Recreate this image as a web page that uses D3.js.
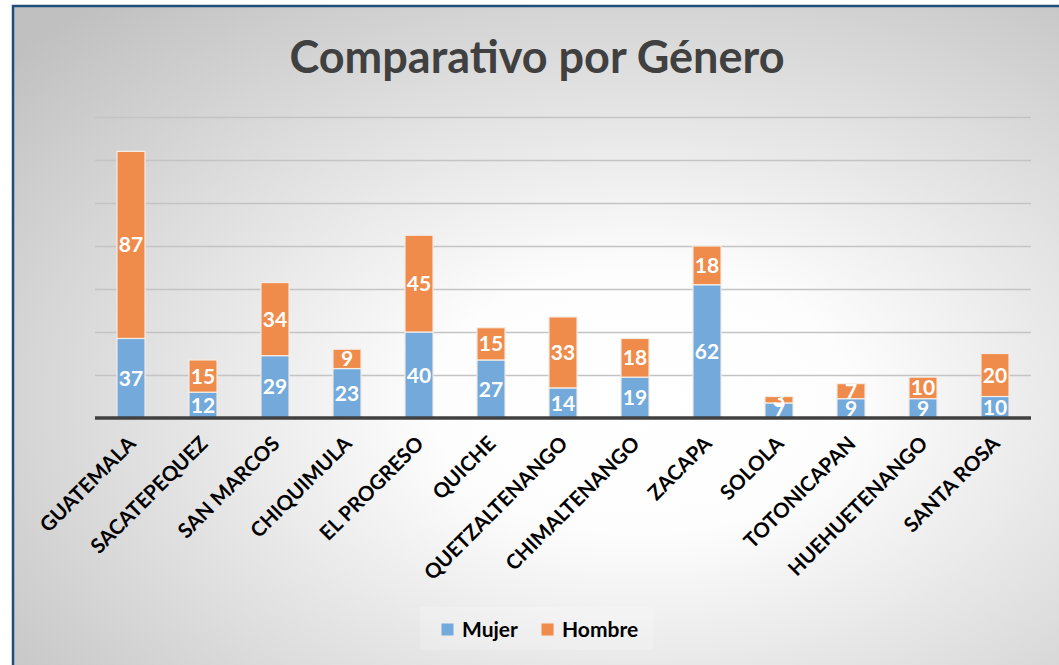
<!DOCTYPE html>
<html>
<head>
<meta charset="utf-8">
<script src="https://cdn.jsdelivr.net/npm/d3@7"></script>
<style>
  html, body { margin: 0; padding: 0; background: #fff; }
  svg { display: block; }
  text { font-family: Lato, "Open Sans", sans-serif; }
</style>
</head>
<body>
<div id="chart"></div>
<script>
// data
const departamentos = ['GUATEMALA', 'SACATEPEQUEZ', 'SAN MARCOS', 'CHIQUIMULA', 'EL PROGRESO', 'QUICHE',
    'QUETZALTENANGO', 'CHIMALTENANGO', 'ZACAPA', 'SOLOLA', 'TOTONICAPAN', 'HUEHUETENANGO', 'SANTA ROSA'];
const mujer  = [37, 12, 29, 23, 40, 27, 14, 19, 62, 7, 9, 9, 10];
const hombre = [87, 15, 34, 9, 45, 15, 33, 18, 18, 3, 7, 10, 20];
const seriesNames = ['Mujer', 'Hombre'];
const yTicks = [0, 20, 40, 60, 80, 100, 120, 140];

const width = 1059, height = 665;
const margin = {top: 117, right: 28, bottom: 247, left: 95};
const colors = {Mujer: '#73a9db', Hombre: '#ef8c4c'};

const svg = d3.select('#chart').append('svg')
    .attr('width', width)
    .attr('height', height);

// radial grey background
const grad = svg.append('defs').append('radialGradient')
    .attr('id', 'bg')
    .attr('cx', '60%').attr('cy', '60%').attr('r', '80%');
grad.append('stop').attr('offset', '0%').attr('stop-color', '#ffffff');
grad.append('stop').attr('offset', '25%').attr('stop-color', '#fdfdfd');
grad.append('stop').attr('offset', '100%').attr('stop-color', '#c0c0c0');

svg.append('rect')
    .attr('x', 13).attr('y', 6)
    .attr('width', width - 13).attr('height', height - 6)
    .attr('fill', 'url(#bg)');

// frame (top and left only are visible)
svg.append('path')
    .attr('d', `M13,${height} L13,6 L${width},6`)
    .attr('fill', 'none')
    .attr('stroke', '#1f4e79')
    .attr('stroke-width', 2.5);

svg.append('text')
    .attr('x', 537).attr('y', 73)
    .attr('text-anchor', 'middle')
    .attr('font-size', 45)
    .attr('font-weight', 700)
    .attr('fill', '#404040')
    .text('Comparativo por Género');

const innerW = width - margin.left - margin.right,
      innerH = height - margin.top - margin.bottom;

const g = svg.append('g')
    .attr('transform', `translate(${margin.left}, ${margin.top})`);

const x = d3.scaleBand()
    .domain(departamentos)
    .range([0, innerW])
    .paddingInner(0.61)
    .paddingOuter(0.305);

const y = d3.scaleLinear()
    .domain([0, 140])
    .range([innerH, 0]);

// gridlines
const yAxis = d3.axisLeft(y)
    .tickValues(yTicks.slice(1))
    .tickSize(-innerW)
    .tickFormat('');
g.append('g')
    .attr('class', 'grid')
    .call(yAxis)
    .call(s => s.select('.domain').remove())
    .call(s => s.selectAll('line').attr('stroke', '#c4c4c4').attr('stroke-width', 1.5));

const rows = departamentos.map((d, i) => ({dep: d, Mujer: mujer[i], Hombre: hombre[i]}));
const stacked = d3.stack().keys(seriesNames)(rows);

const layers = g.selectAll('.layer')
    .data(stacked)
    .join('g')
    .attr('class', 'layer')
    .attr('fill', d => colors[d.key]);

layers.selectAll('rect')
    .data(d => d)
    .join('rect')
    .attr('x', d => x(d.data.dep))
    .attr('width', x.bandwidth())
    .attr('y', d => y(d[1]))
    .attr('height', d => y(d[0]) - y(d[1]))
    .attr('stroke', '#f4ede6')
    .attr('stroke-width', 1.2);

layers.selectAll('text')
    .data(d => d)
    .join('text')
    .attr('x', d => x(d.data.dep) + x.bandwidth() / 2)
    .attr('y', d => (y(d[0]) + y(d[1])) / 2)
    .attr('dy', '0.36em')
    .attr('text-anchor', 'middle')
    .attr('font-size', 21)
    .attr('font-weight', 700)
    .attr('fill', '#ffffff')
    .text(d => d[1] - d[0]);

// baseline
g.append('line')
    .attr('x1', 0).attr('x2', innerW)
    .attr('y1', y(0)).attr('y2', y(0))
    .attr('stroke', '#404040')
    .attr('stroke-width', 3.5);

// category labels
const xAxis = d3.axisBottom(x).tickSize(0).tickPadding(0);
g.append('g')
    .attr('transform', `translate(0, ${innerH})`)
    .call(xAxis)
    .call(s => s.select('.domain').remove())
    .selectAll('text')
    .attr('font-family', 'Lato, "Open Sans", sans-serif')
    .attr('font-size', 20.5)
    .attr('font-weight', 700)
    .attr('fill', '#000')
    .attr('text-anchor', 'end')
    .attr('dy', null)
    .attr('y', 0)
    .attr('transform', 'translate(6, 27) rotate(-45)');

// legend
const legend = svg.append('g');
legend.append('rect')
    .attr('x', 420).attr('y', 607)
    .attr('width', 233).attr('height', 43)
    .attr('fill', '#ffffff').attr('opacity', 0.2);

const legendX = [441, 541];
seriesNames.forEach((name, i) => {
    legend.append('rect')
        .attr('x', legendX[i]).attr('y', 623)
        .attr('width', 13).attr('height', 13)
        .attr('fill', colors[name])
        .attr('stroke', '#f4ede6').attr('stroke-width', 1);
    legend.append('text')
        .attr('x', legendX[i] + 21).attr('y', 637)
        .attr('font-size', 21)
        .attr('font-weight', 700)
        .attr('fill', '#000')
        .text(name);
});
</script>
</body>
</html>
